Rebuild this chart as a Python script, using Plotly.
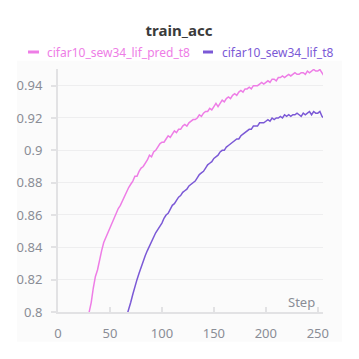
import plotly.graph_objects as go

pred_t8_start = 28
pred_t8_acc = [
    0.794, 0.800, 0.806, 0.815, 0.822, 0.826, 0.833, 0.838, 0.843, 0.846,
    0.849, 0.853, 0.856, 0.858, 0.862, 0.864, 0.866, 0.869, 0.872, 0.874,
    0.877, 0.879, 0.881, 0.884, 0.884, 0.887, 0.889, 0.890, 0.892, 0.894,
    0.897, 0.896, 0.899, 0.900, 0.902, 0.904, 0.905, 0.905, 0.907, 0.909,
    0.908, 0.910, 0.912, 0.911, 0.913, 0.913, 0.915, 0.916, 0.915, 0.917,
    0.918, 0.919, 0.919, 0.920, 0.922, 0.921, 0.923, 0.924, 0.924, 0.926,
    0.925, 0.927, 0.929, 0.927, 0.929, 0.931, 0.930, 0.932, 0.933, 0.932,
    0.934, 0.935, 0.934, 0.936, 0.937, 0.936, 0.938, 0.938, 0.939, 0.938,
    0.940, 0.940, 0.940, 0.941, 0.942, 0.941, 0.942, 0.943, 0.942, 0.944,
    0.944, 0.943, 0.945, 0.945, 0.946, 0.945, 0.946, 0.947, 0.946, 0.947,
    0.948, 0.947, 0.947, 0.948, 0.948, 0.947, 0.949, 0.948, 0.949, 0.950,
    0.949, 0.949, 0.950, 0.948, 0.946,
]

lif_t8_start = 64
lif_t8_acc = [
    0.793, 0.797, 0.801, 0.806, 0.811, 0.816, 0.820, 0.824, 0.828, 0.831,
    0.835, 0.838, 0.841, 0.843, 0.846, 0.849, 0.851, 0.853, 0.855, 0.858,
    0.860, 0.861, 0.864, 0.866, 0.867, 0.869, 0.871, 0.872, 0.874, 0.875,
    0.876, 0.878, 0.879, 0.880, 0.881, 0.883, 0.885, 0.886, 0.887, 0.889,
    0.891, 0.892, 0.893, 0.895, 0.896, 0.897, 0.899, 0.900, 0.900, 0.902,
    0.903, 0.904, 0.905, 0.906, 0.907, 0.907, 0.909, 0.910, 0.911, 0.912,
    0.913, 0.913, 0.915, 0.915, 0.915, 0.917, 0.917, 0.917, 0.918, 0.919,
    0.918, 0.920, 0.919, 0.920, 0.920, 0.921, 0.920, 0.922, 0.921, 0.922,
    0.921, 0.922, 0.922, 0.923, 0.922, 0.921, 0.923, 0.922, 0.923, 0.924,
    0.922, 0.924, 0.923, 0.923, 0.924, 0.921, 0.920,
]

pred_t8_steps = list(range(pred_t8_start, pred_t8_start + 2 * len(pred_t8_acc), 2))
lif_t8_steps = list(range(lif_t8_start, lif_t8_start + 2 * len(lif_t8_acc), 2))

names = ["cifar10_sew34_lif_pred_t8", "cifar10_sew34_lif_t8"]
colors = ["#ee7de6", "#7b59d6"]
y_ticks = [0.8, 0.82, 0.84, 0.86, 0.88, 0.9, 0.92, 0.94]
x_ticks = [0, 50, 100, 150, 200, 250]

fig = go.Figure()
for xs, ys, c in [(pred_t8_steps, pred_t8_acc, colors[0]), (lif_t8_steps, lif_t8_acc, colors[1])]:
    fig.add_trace(go.Scatter(x=xs, y=ys, mode="lines", line=dict(color=c, width=1.5),
                             showlegend=False, hoverinfo="skip"))
    # dot on last point
    fig.add_trace(go.Scatter(x=[xs[-1]], y=[ys[-1]], mode="markers", marker=dict(color=c, size=7),
                             showlegend=False, cliponaxis=False, hoverinfo="skip"))

fnt = "Noto Sans, Open Sans, sans-serif"
# page body has an 8px margin, so the figure sits 8px right/down
fig.update_layout(
    width=359, height=359,
    margin=dict(l=50, r=44, t=61, b=55, autoexpand=False),
    paper_bgcolor="white", plot_bgcolor="rgba(0,0,0,0)",
    font=dict(family=fnt, size=13, color="#8a8d96"),
    title=dict(text="<b>train_acc</b>", xref="container", x=171 / 359, xanchor="center",
               y=1 - 23 / 359, yanchor="middle", automargin=False,
               font=dict(size=15, color="#3b3b3b", family=fnt)),
    xaxis=dict(range=[0, 255], tickvals=x_ticks, showgrid=False, zeroline=False, automargin=False,
               showline=True, linecolor="#e2e2e4", linewidth=2,
               ticks="inside", ticklen=5, tickcolor="#e2e2e4", tickwidth=1.5,
               ticklabelstandoff=8),
    yaxis=dict(range=[0.8, 0.9503], tickvals=y_ticks, showgrid=True, gridcolor="#eeeeef", gridwidth=1,
               zeroline=False, automargin=False, showline=True, linecolor="#e2e2e4", linewidth=2,
               ticks="outside", ticklen=5, tickcolor="#e2e2e4", tickwidth=1.5,
               ticklabelstandoff=6),
)

# faint panel behind the chart
fig.add_shape(type="rect", xref="paper", yref="paper", x0=-0.1547, x1=1.0717, y0=-0.1222, y1=1.034,
              fillcolor="#fbfbfb", line=dict(width=0), layer="below")

# legend drawn by hand: short thick dash + coloured text
legend_dash = [(-30, -19), (145, 155)]
legend_text_x = [-13, 162]
for (d0, d1), tx, nm, c in zip(legend_dash, legend_text_x, names, colors):
    fig.add_shape(type="line", xref="paper", yref="paper", xsizemode="pixel", ysizemode="pixel",
                  xanchor=0, yanchor=1, x0=d0, x1=d1, y0=17, y1=17, line=dict(color=c, width=3))
    fig.add_annotation(text=nm, xref="paper", yref="paper", x=0, y=1, xshift=tx, yshift=17,
                       xanchor="left", yanchor="middle", showarrow=False,
                       font=dict(size=12, color=c, family=fnt))

fig.add_annotation(text="Step", xref="paper", yref="paper", x=1, y=0, xshift=-6, yshift=10,
                   xanchor="right", yanchor="middle", showarrow=False,
                   font=dict(size=13, color="#8a8d96", family=fnt))

fig.write_html("out.html")
